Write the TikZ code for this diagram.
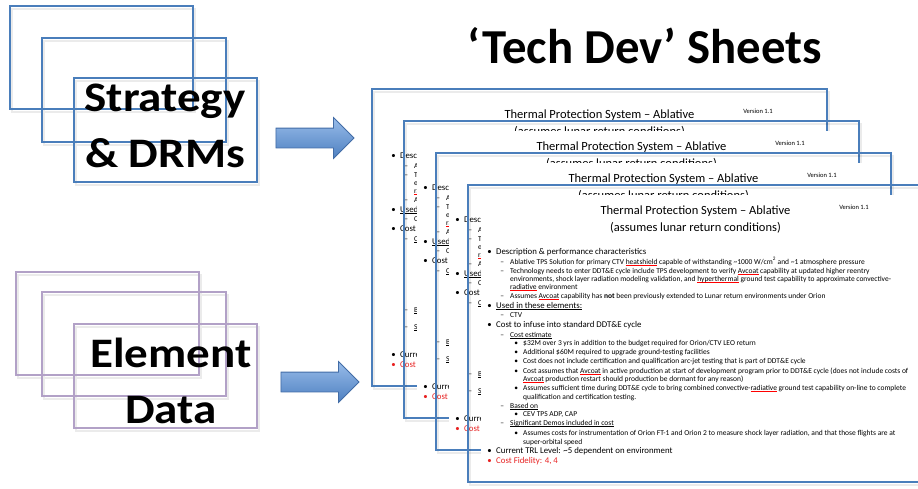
\documentclass[tikz,border=0pt]{standalone}
\usepackage{fontspec}
\setmainfont{Carlito}
\newfontfamily\bigfont{Carlito}[FakeStretch=1.12]
\usepackage{tikz}
\usetikzlibrary{positioning, shapes.arrows}
\usepackage{xcolor}
\definecolor{sheet-blue}{RGB}{74,126,187}
\definecolor{drm-purple}{RGB}{178,161,199}
\definecolor{arrow-top}{RGB}{152,188,234}
\definecolor{arrow-bottom}{RGB}{78,128,192}
\definecolor{arrow-rim}{RGB}{66,108,166}
\definecolor{fidelity-red}{RGB}{232,34,34}

% red spell-check mark and plain underline
\newcommand{\spell}[1]{\setbox0=\hbox{#1}\rlap{\color{red}\rule[-1.1pt]{\wd0}{0.45pt}}\box0\relax}
\newcommand{\ulin}[1]{\setbox0=\hbox{#1}\rlap{\rule[-1pt]{\wd0}{0.35pt}}\box0\relax}

\begin{document}
\begin{tikzpicture}[x=1pt, y=-1pt,
    frame/.style={line width=1.3pt},
    soft/.style={line width=2.5pt, black, opacity=0.08},
    big/.style={font=\bigfont\bfseries\fontsize{42}{56}\selectfont, align=center, inner sep=0pt},
    blockarrow/.style={single arrow, draw=arrow-rim, thick, top color=arrow-top, bottom color=arrow-bottom,
      minimum height=78pt, minimum width=40pt, single arrow head extend=10.5pt, single arrow head indent=0pt,
      inner xsep=0pt, inner ysep=9.5pt},
    sheetfill/.style={fill=white},
    sheetrim/.style={draw=sheet-blue, line width=1.8pt},
    sheettitle/.style={font=\fontsize{12.5}{14}\selectfont, anchor=base, inner sep=0pt},
    version/.style={font=\fontsize{6.5}{8}\selectfont, anchor=base, inner sep=0pt},
    sheetline/.style={anchor=base west, inner sep=0pt, font=\fontsize{7.5}{9}\selectfont},
    lvA/.style={sheetline, font=\fontsize{8.8}{10}\selectfont, xshift=28pt, execute at begin node={\llap{\textbullet\hspace{4.5pt}}}},
    lvR/.style={lvA, text=fidelity-red},
    lvB/.style={sheetline, xshift=42pt, execute at begin node={\llap{--\hspace{6pt}}}},
    lvBc/.style={sheetline, xshift=42pt},
    lvC/.style={sheetline, xshift=55pt, execute at begin node={\llap{\textbullet\hspace{5pt}}}},
    lvCc/.style={sheetline, xshift=55pt}]
  \useasboundingbox (0,0) rectangle (918,488);
  \clip (0,0) rectangle (918,488);

  \draw[soft] (12,9) rectangle (195,112) (44,41) rectangle (228,145) (76,81) rectangle (259,185);
  \draw[frame, sheet-blue] (10,6) rectangle (193,109) (42,38) rectangle (226,142) (74,78) rectangle (257,182);
  \node[big] (strategy) at (165,126) {Strategy\\\& DRMs};

  \draw[soft] (18,275) rectangle (201,378) (44,295) rectangle (228,399) (76,327) rectangle (259,431);
  \draw[frame, drm-purple] (16,272) rectangle (199,375) (42,292) rectangle (226,396) (74,324) rectangle (257,428);
  \node[big] (element) at (171,381) {Element\\Data};

  \node[blockarrow] (toSheets) at (310,138) {};
  \node[blockarrow] (fromData) at (315,382) {};

  \node[font=\fontsize{48.8}{56}\selectfont\bfseries, anchor=base, inner sep=0pt] (heading) at (645,63) {‘Tech Dev’ Sheets};

  \foreach \k in {0,...,3}{
    \begin{scope}[shift={(372+32*\k,89+32*\k)}]
      \fill[sheetfill] (13,10) rectangle (455,297);
      \node[version] (ver\k) at (386,24) {Version 1.1};
      \node[sheettitle] (ttl\k) at (227.5,29.5) {Thermal Protection System -- Ablative};
      \node[sheettitle] (sub\k) at (227.5,46.5) {(assumes lunar return conditions)};
      \foreach \y/\s/\t [count=\n] in {
          69.5/lvA/{Description \& performance characteristics},
          79/lvB/{Ablative TPS Solution for primary CTV \spell{heatshield} capable of withstanding \textasciitilde 1000 W/cm\textsuperscript{2} and \textasciitilde 1 atmosphere pressure},
          88/lvB/{Technology needs to enter DDT\&E cycle include TPS development to verify \spell{Avcoat} capability at updated higher reentry},
          96/lvBc/{environments, shock layer radiation modeling validation, and \spell{hyperthermal} ground test capability to approximate convective-},
          104/lvBc/{\spell{radiative} environment},
          113/lvB/{Assumes \spell{Avcoat} capability has \textbf{not} been previously extended to Lunar return environments under Orion},
          123.5/lvA/{\ulin{Used in these elements:}},
          132/lvB/{CTV},
          142.5/lvA/{Cost to infuse into standard DDT\&E cycle},
          152/lvB/{\ulin{Cost estimate}},
          160/lvC/{\$32M over 3 yrs in addition to the budget required for Orion/CTV LEO return},
          169/lvC/{Additional \$60M required to upgrade ground-testing facilities},
          178/lvC/{Cost does not include certification and qualification arc-jet testing that is part of DDT\&E cycle},
          188/lvC/{Cost assumes that \spell{Avcoat} in active production at start of development program prior to DDT\&E cycle (does not include costs of},
          196/lvCc/{\spell{Avcoat} production restart should production be dormant for any reason)},
          205/lvC/{Assumes sufficient time during DDT\&E cycle to bring combined convective-\spell{radiative} ground test capability on-line to complete},
          214/lvCc/{qualification and certification testing.},
          223/lvB/{\ulin{Based on}},
          231/lvC/{CEV TPS ADP, CAP},
          240/lvB/{\ulin{Significant Demos included in cost}},
          250/lvC/{Assumes costs for instrumentation of Orion FT-1 and Orion 2 to measure shock layer radiation, and that those flights are at},
          259/lvCc/{super-orbital speed},
          268.5/lvA/{Current TRL Level: \textasciitilde 5 dependent on environment},
          278.5/lvR/{Cost Fidelity: 4, 4}}
        \node[\s] (ln\k-\n) at (0,\y) {\t};
      \draw[soft] (2,3) rectangle (457,300);
      \draw[sheetrim] (0,0) rectangle (455,297);
    \end{scope}
  }
\end{tikzpicture}
\end{document}
